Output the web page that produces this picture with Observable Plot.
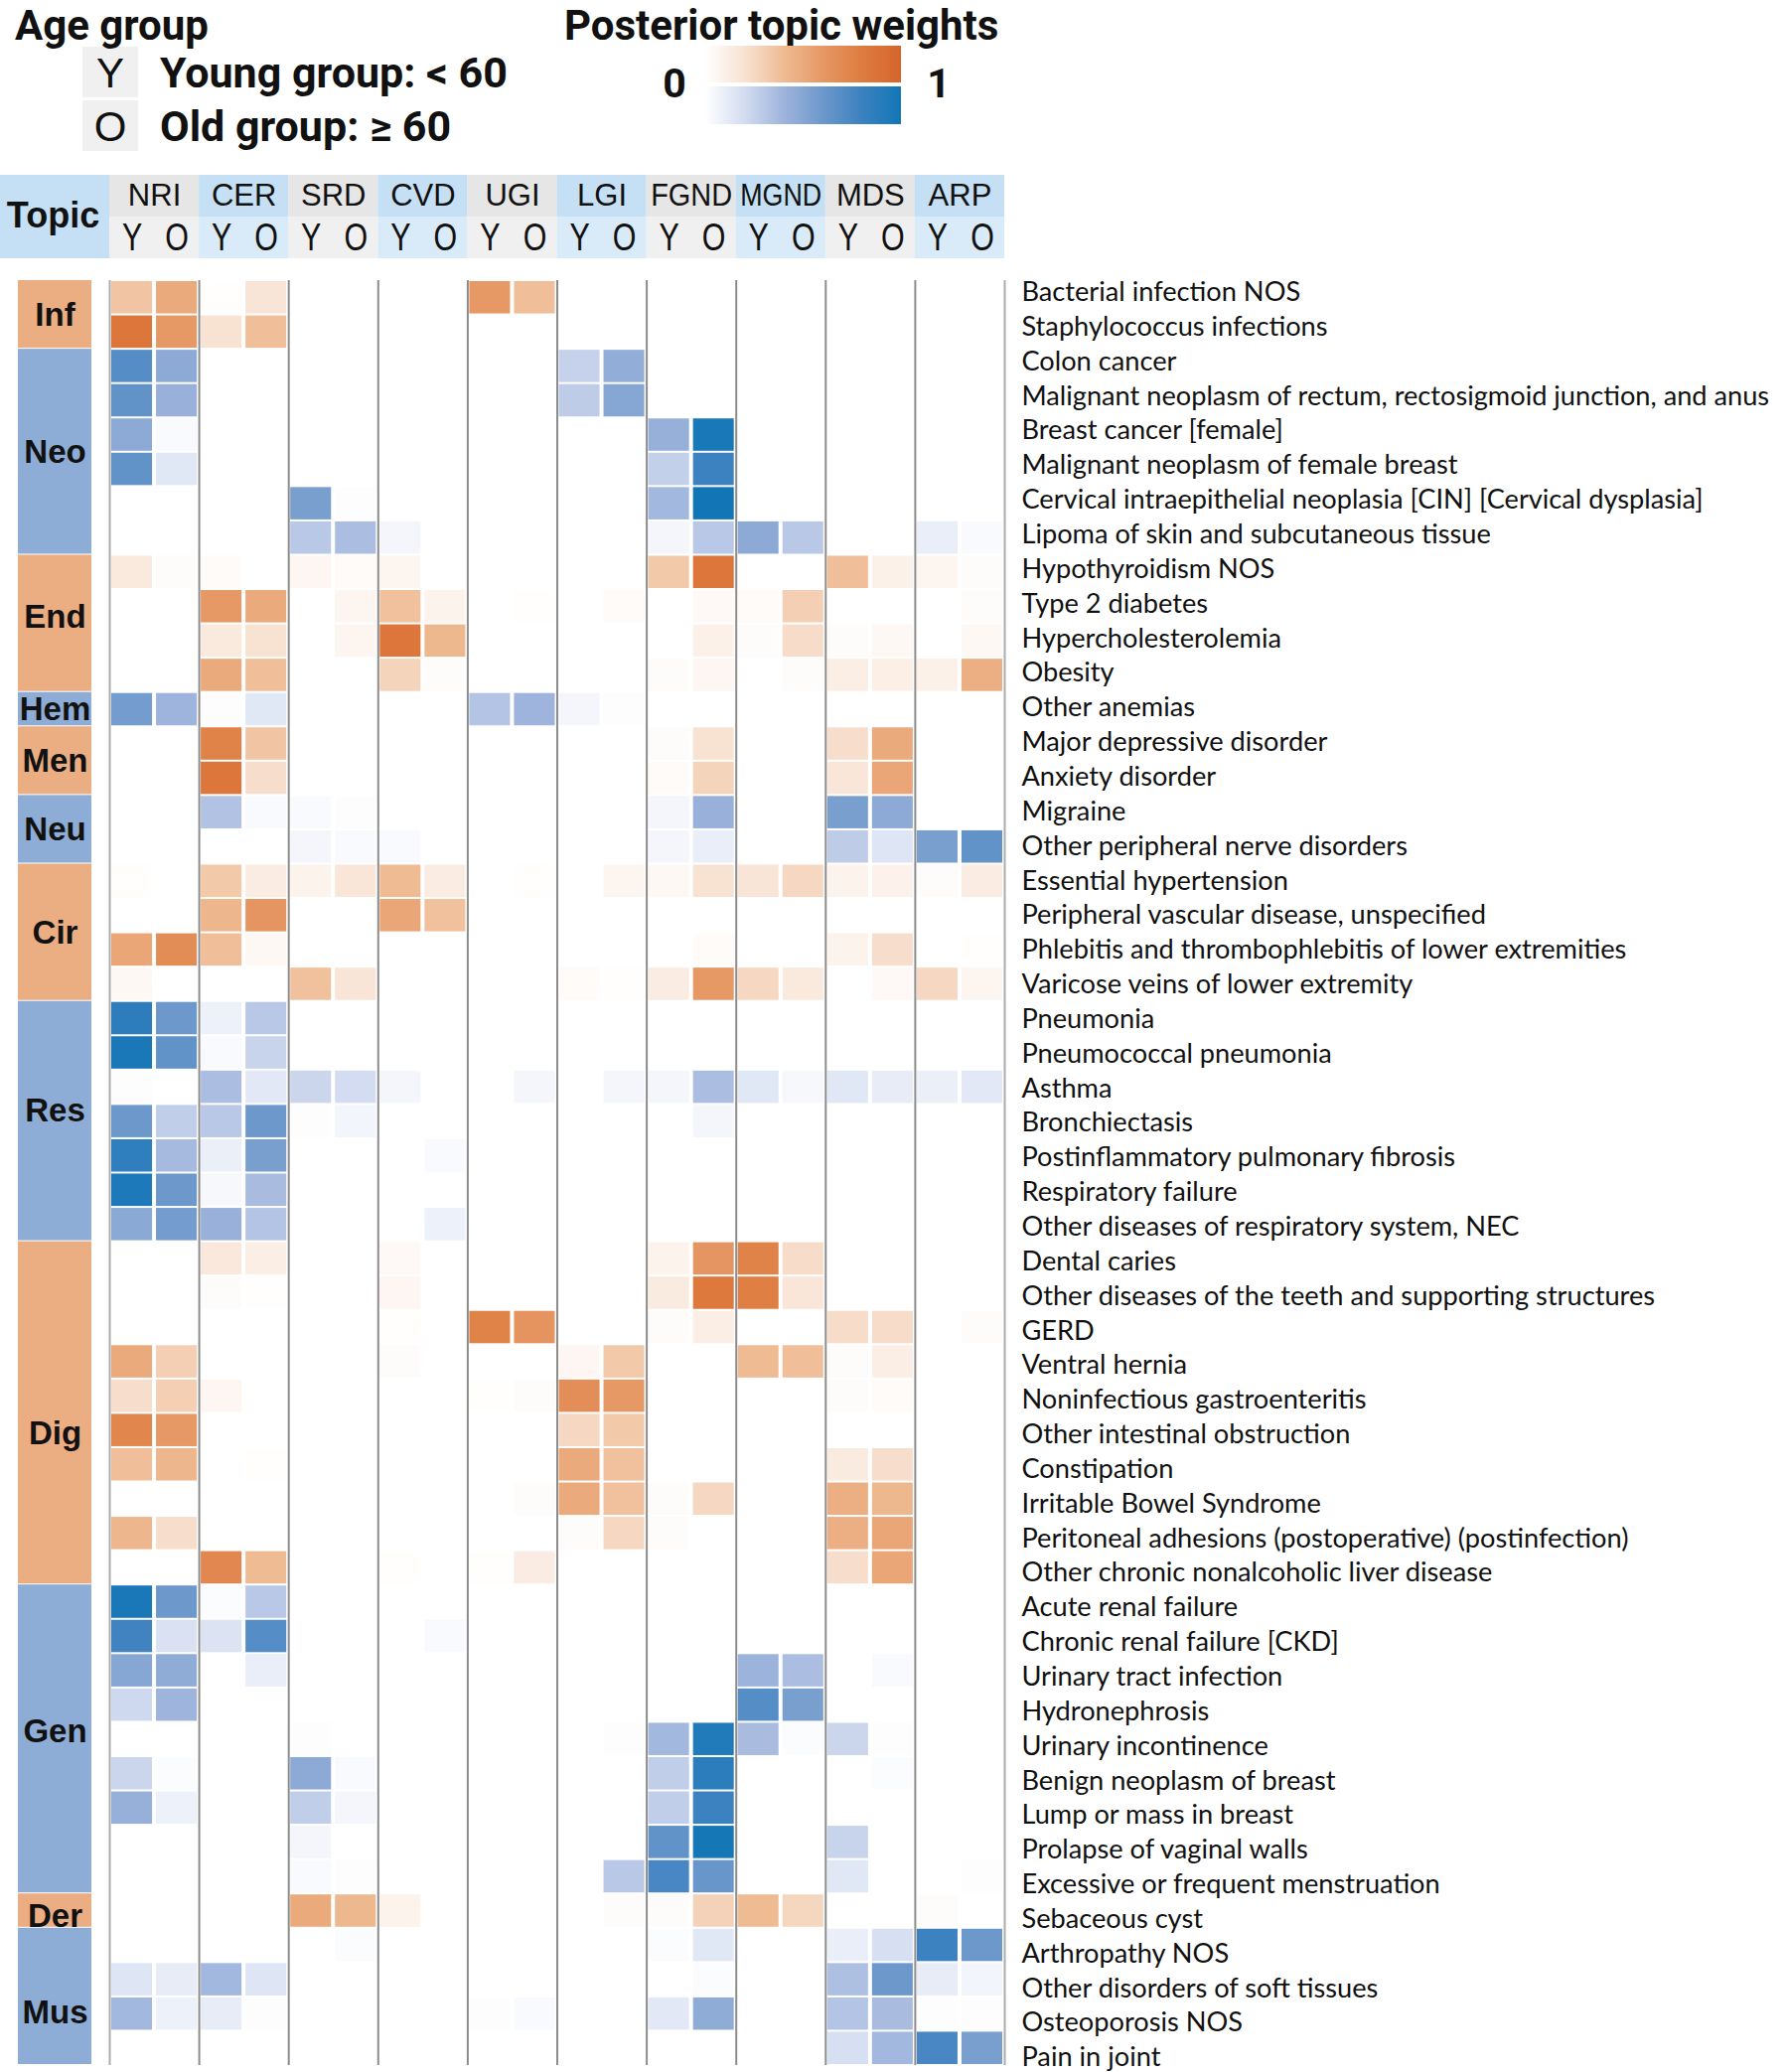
<!DOCTYPE html>
<html><head><meta charset="utf-8">
<script src="https://cdn.jsdelivr.net/npm/d3@7"></script>
<script src="https://cdn.jsdelivr.net/npm/@observablehq/plot@0.6"></script>
<style>
html,body{margin:0;padding:0;background:#fff;}
#chart{width:1800px;height:2086px;overflow:hidden;background:#fff;}
#chart svg{display:block;}
</style></head>
<body><div id="chart"></div>
<script>
// ---------------- DATA ----------------
const topics = ["NRI","CER","SRD","CVD","UGI","LGI","FGND","MGND","MDS","ARP"];
const ageGroups = ["Y","O"];
const ageLegend = ["Young group: < 60","Old group: \u2265 60"];
const categories = ["Inf","Neo","End","Hem","Men","Neu","Cir","Res","Dig","Gen","Der","Mus"];

// column order: NRI Y,O | CER Y,O | SRD Y,O | CVD Y,O | UGI Y,O | LGI Y,O | FGND Y,O | MGND Y,O | MDS Y,O | ARP Y,O
const infDiseases = ["Bacterial infection NOS","Staphylococcus infections"];
const infWeights = [
  [.35,.50, .01,.18, 0,0, 0,0, .60,.38, 0,0, 0,0, 0,0, 0,0, 0,0],
  [.85,.60, .20,.38, 0,0, 0,0, 0,0, 0,0, 0,0, 0,0, 0,0, 0,0]
];
const neoDiseases = ["Colon cancer","Malignant neoplasm of rectum, rectosigmoid junction, and anus","Breast cancer [female]","Malignant neoplasm of female breast","Cervical intraepithelial neoplasia [CIN] [Cervical dysplasia]","Lipoma of skin and subcutaneous tissue"];
const neoWeights = [
  [.70,.47, 0,0, 0,0, 0,0, 0,0, .25,.45, 0,0, 0,0, 0,0, 0,0],
  [.65,.42, 0,0, 0,0, 0,0, 0,0, .28,.50, 0,0, 0,0, 0,0, 0,0],
  [.47,.03, 0,0, 0,0, 0,0, 0,0, 0,0, .43,.97, 0,0, 0,0, 0,0],
  [.65,.14, 0,0, 0,0, 0,0, 0,0, 0,0, .26,.80, 0,0, 0,0, 0,0],
  [0,0, 0,0, .55,.01, 0,0, 0,0, 0,0, .38,1.0, 0,0, 0,0, 0,0],
  [0,0, 0,0, .30,.35, .05,0, 0,0, 0,0, .05,.30, .47,.30, 0,0, .10,.03]
];
const endDiseases = ["Hypothyroidism NOS","Type 2 diabetes","Hypercholesterolemia","Obesity"];
const endWeights = [
  [.15,.02, .03,0, .06,.03, .07,0, 0,0, 0,0, .33,.85, 0,0, .38,.10, .07,.02],
  [0,0, .60,.50, 0,.07, .37,.08, 0,.01, 0,.03, 0,.04, .03,.30, 0,0, 0,.02],
  [0,0, .15,.20, 0,.07, .85,.42, 0,0, 0,0, 0,.10, .02,.23, .02,.05, 0,.05],
  [0,0, .50,.38, 0,0, .27,.02, 0,0, 0,0, .02,.06, 0,.02, .12,.11, .10,.47]
];
const hemDiseases = ["Other anemias"];
const hemWeights = [
  [.57,.40, .01,.14, 0,0, 0,0, .32,.40, .05,.01, 0,0, 0,0, 0,0, 0,0]
];
const menDiseases = ["Major depressive disorder","Anxiety disorder"];
const menWeights = [
  [0,0, .75,.35, 0,0, 0,0, 0,0, 0,0, .02,.20, 0,0, .22,.50, 0,0],
  [0,0, .85,.22, 0,0, 0,0, 0,0, 0,0, .03,.27, 0,0, .17,.52, 0,0]
];
const neuDiseases = ["Migraine","Other peripheral nerve disorders"];
const neuWeights = [
  [0,0, .33,.03, .03,.01, 0,0, 0,0, 0,0, .05,.42, 0,0, .55,.47, 0,0],
  [0,0, 0,0, .05,.03, .03,0, 0,0, 0,0, .05,.10, 0,0, .28,.15, .55,.65]
];
const cirDiseases = ["Essential hypertension","Peripheral vascular disease, unspecified","Phlebitis and thrombophlebitis of lower extremities","Varicose veins of lower extremity"];
const cirWeights = [
  [.01,0, .33,.13, .08,.17, .40,.13, 0,.01, 0,.07, .05,.20, .18,.25, .08,.09, .02,.13],
  [0,0, .43,.62, 0,0, .52,.37, 0,0, 0,0, 0,0, 0,0, 0,0, 0,0],
  [.52,.68, .38,.05, 0,0, 0,0, 0,0, 0,0, 0,.03, 0,0, .08,.22, 0,.01],
  [.05,0, 0,0, .37,.18, 0,0, 0,0, .03,.01, .13,.60, .25,.15, 0,.04, .25,.07]
];
const resDiseases = ["Pneumonia","Pneumococcal pneumonia","Asthma","Bronchiectasis","Postinflammatory pulmonary fibrosis","Respiratory failure","Other diseases of respiratory system, NEC"];
const resWeights = [
  [.87,.60, .08,.30, 0,0, 0,0, 0,0, 0,0, 0,0, 0,0, 0,0, 0,0],
  [.96,.65, .03,.24, 0,0, 0,0, 0,0, 0,0, 0,0, 0,0, 0,0, 0,0],
  [.01,0, .35,.13, .23,.20, .05,0, 0,.05, 0,.05, .05,.35, .14,.04, .14,.11, .09,.13],
  [.60,.27, .30,.60, .01,.06, 0,0, 0,0, 0,0, 0,.05, 0,0, 0,0, 0,0],
  [.86,.37, .09,.55, 0,0, 0,.03, 0,0, 0,0, 0,0, 0,0, 0,0, 0,0],
  [.95,.60, .04,.36, 0,0, 0,0, 0,0, 0,0, 0,0, 0,0, 0,0, 0,0],
  [.48,.57, .42,.32, 0,0, 0,.08, 0,0, 0,0, 0,0, 0,0, 0,0, 0,0]
];
const digDiseases = ["Dental caries","Other diseases of the teeth and supporting structures","GERD","Ventral hernia","Noninfectious gastroenteritis","Other intestinal obstruction","Constipation","Irritable Bowel Syndrome","Peritoneal adhesions (postoperative) (postinfection)","Other chronic nonalcoholic liver disease"];
const digWeights = [
  [0,0, .16,.12, 0,0, .04,0, 0,0, 0,0, .08,.62, .75,.23, 0,0, 0,0],
  [0,0, .02,.01, 0,0, .06,0, 0,0, 0,0, .14,.83, .78,.17, 0,0, 0,0],
  [0,0, 0,0, 0,0, .01,0, .75,.63, 0,0, .02,.12, 0,0, .23,.23, 0,.02],
  [.50,.30, 0,0, 0,0, .02,0, 0,0, .06,.33, 0,0, .40,.38, .02,.12, 0,0],
  [.22,.30, .06,0, 0,0, 0,0, .01,.02, .67,.60, 0,0, 0,0, .02,.03, 0,0],
  [.73,.60, 0,0, 0,0, 0,0, 0,0, .25,.33, 0,0, 0,0, 0,0, 0,0],
  [.38,.43, 0,.01, 0,0, 0,0, 0,0, .50,.37, 0,0, 0,0, .14,.22, 0,0],
  [0,0, 0,0, 0,0, 0,0, 0,.02, .50,.37, .02,.25, 0,0, .47,.42, 0,0],
  [.43,.22, 0,0, 0,0, 0,0, 0,0, .02,.25, .02,0, 0,0, .47,.52, 0,0],
  [0,0, .72,.40, 0,0, .01,0, .01,.13, 0,0, 0,0, 0,0, .22,.52, 0,0]
];
const genDiseases = ["Acute renal failure","Chronic renal failure [CKD]","Urinary tract infection","Hydronephrosis","Urinary incontinence","Benign neoplasm of breast","Lump or mass in breast","Prolapse of vaginal walls","Excessive or frequent menstruation"];
const genWeights = [
  [.96,.60, .02,.30, 0,0, 0,0, 0,0, 0,0, 0,0, 0,0, 0,0, 0,0],
  [.78,.17, .16,.70, 0,0, 0,.03, 0,0, 0,0, 0,0, 0,0, 0,0, 0,0],
  [.50,.46, 0,.10, 0,0, 0,0, 0,0, 0,0, 0,0, .41,.35, 0,.03, 0,0],
  [.22,.40, 0,0, 0,0, 0,0, 0,0, 0,0, 0,0, .70,.55, 0,0, 0,0],
  [0,0, 0,0, .01,0, 0,0, 0,0, 0,.01, .38,.93, .36,.02, .23,.01, 0,0],
  [.23,.02, 0,0, .47,.03, 0,0, 0,0, 0,0, .27,.88, 0,0, 0,.02, 0,0],
  [.43,.08, 0,0, .27,.05, 0,0, 0,0, 0,0, .27,.80, 0,0, 0,0, 0,0],
  [0,0, 0,0, .05,0, 0,0, 0,0, 0,0, .65,.98, 0,0, .24,0, 0,0],
  [0,0, 0,0, .03,.01, 0,0, 0,0, 0,.30, .75,.62, 0,0, .14,0, 0,.01]
];
const derDiseases = ["Sebaceous cyst"];
const derWeights = [
  [0,0, 0,0, .50,.42, .08,0, 0,0, 0,.02, .02,.28, .40,.26, 0,0, .02,0]
];
const musDiseases = ["Arthropathy NOS","Other disorders of soft tissues","Osteoporosis NOS","Pain in joint"];
const musWeights = [
  [0,0, 0,0, 0,.02, 0,0, 0,0, 0,0, .02,.14, 0,0, .10,.18, .80,.60],
  [.15,.11, .38,.15, 0,0, 0,0, 0,0, 0,0, 0,.02, 0,0, .34,.60, .11,.06],
  [.38,.08, .11,.01, 0,0, 0,0, .01,.03, 0,0, .13,.46, 0,0, .32,.36, .01,.01],
  [0,0, 0,0, 0,0, 0,0, 0,0, 0,0, 0,0, 0,0, .18,.38, .75,.55]
];

const orangeRamp = ["#ffffff","#f8e2d2","#efbb93","#e69865","#de7c40","#d6652a"];
const blueRamp   = ["#ffffff","#d3dcf0","#9eb4dc","#6d98cb","#3c81c0","#1276b6"];

// ---------------- LAYOUT (scale units) ----------------
const HEAD = {top: -3.067, mid: -1.852, bot: -0.637};
const TOPIC_BOX_X1 = -2.442, CAT_X1 = -2.042, CAT_X2 = -0.40, CAT_TEXT_X = -1.221, TOPIC_TEXT_X = -1.265, LABEL_X = 20.377;
const catLabelNudge = {End: -0.19, Res: -0.31, Dig: 0.58, Gen: -0.23, Der: 0.15, Mus: 0.46};
const LABEL_SPREAD = 1.0084;   // label column is laid out slightly looser than the cell rows

// ---------------- BUILD TABLES ----------------
const diseaseLists = [infDiseases,neoDiseases,endDiseases,hemDiseases,menDiseases,neuDiseases,cirDiseases,resDiseases,digDiseases,genDiseases,derDiseases,musDiseases];
const weightLists  = [infWeights,neoWeights,endWeights,hemWeights,menWeights,neuWeights,cirWeights,resWeights,digWeights,genWeights,derWeights,musWeights];

const cells = [], labels = [], catSpans = [];
let row = 0;
categories.forEach((cat, k) => {
  const sign = k % 2 === 0 ? 1 : -1;   // orange groups positive, blue groups negative
  const names = diseaseLists[k];
  catSpans.push({cat, r1: row, r2: row + names.length, tone: sign});
  names.forEach((name, i) => {
    labels.push({name, r: row});
    weightLists[k][i].forEach((w, c) => cells.push({r: row, c, v: sign * w}));
    row++;
  });
});
const nRows = row, nCols = topics.length * ageGroups.length;
const topicCells = topics.map((t, i) => ({t, c1: 2 * i, c2: 2 * i + 2, tone: i % 2}));
const ageCells = topics.flatMap((t, i) => ageGroups.map((a, j) => ({a, c: 2 * i + j})));
const innerBounds = topics.slice(1).map((t, i) => 2 * (i + 1));
const outerBounds = [0, nCols];

const colorDomain = [-1,-0.8,-0.6,-0.4,-0.2,0,0.2,0.4,0.6,0.8,1];
const colorRange = [...blueRamp].reverse().concat(orangeRamp.slice(1));

// ---------------- LEGEND (above the plot) ----------------
const chart = document.getElementById("chart");
const leg = d3.create("svg").attr("width", 1800).attr("height", 170).attr("viewBox", "0 0 1800 170");
const defs = leg.append("defs");
[["gradO", orangeRamp], ["gradB", blueRamp]].forEach(([id, ramp]) => {
  const g = defs.append("linearGradient").attr("id", id).attr("x1", "0%").attr("x2", "100%");
  ramp.forEach((c, i) => g.append("stop").attr("offset", (i / (ramp.length - 1)) * 100 + "%").attr("stop-color", c));
});
const titleFont = "Roboto, 'Liberation Sans', Arial, sans-serif";
ageGroups.forEach((a, i) => {
  const y0 = i === 0 ? 47 : 101;
  leg.append("rect").attr("x", 83).attr("y", y0).attr("width", 56).attr("height", 51).attr("fill", "#f0f0f0");
  leg.append("text").attr("x", 111).attr("y", y0 + 41).attr("text-anchor", "middle")
    .attr("font-family", "'Liberation Sans', Arial, sans-serif").attr("font-size", 42).attr("fill", "#111").text(a);
  leg.append("text").attr("x", 161).attr("y", y0 + 41).attr("font-family", titleFont).attr("font-weight", 700)
    .attr("font-size", 43).attr("fill", "#111").text(ageLegend[i]);
});
leg.append("text").attr("x", 15).attr("y", 40).attr("font-family", titleFont).attr("font-weight", 700)
  .attr("font-size", 42).attr("fill", "#111").text("Age group");
leg.append("text").attr("x", 568).attr("y", 40).attr("font-family", titleFont).attr("font-weight", 700)
  .attr("font-size", 42).attr("fill", "#111").text("Posterior topic weights");
leg.append("rect").attr("x", 710).attr("y", 46).attr("width", 197).attr("height", 37).attr("fill", "url(#gradO)");
leg.append("rect").attr("x", 710).attr("y", 87).attr("width", 197).attr("height", 38).attr("fill", "url(#gradB)");
leg.append("text").attr("x", 679).attr("y", 98).attr("text-anchor", "middle").attr("font-family", titleFont)
  .attr("font-weight", 700).attr("font-size", 41).attr("fill", "#111").text("0");
leg.append("text").attr("x", 945).attr("y", 98).attr("text-anchor", "middle").attr("font-family", titleFont)
  .attr("font-weight", 700).attr("font-size", 41).attr("fill", "#111").text("1");
chart.appendChild(leg.node());

// ---------------- PLOT ----------------
const headFont = "'Liberation Sans', Arial, Helvetica, sans-serif";
const svg = Plot.plot({
  width: 1800, height: 1916, margin: 0,
  x: {domain: [0, nCols], range: [110, 1011], axis: null},
  y: {domain: [0, nRows], range: [112, 1909], axis: null},
  color: {type: "linear", domain: colorDomain, range: colorRange, interpolate: "rgb"},
  style: {background: "white", fontFamily: headFont},
  marks: [
    // header
    Plot.rect([0], {x1: TOPIC_BOX_X1, x2: 0, y1: HEAD.top, y2: HEAD.bot, fill: "#c5e0f5"}),
    Plot.rect(topicCells.filter(d => d.tone === 0), {x1: "c1", x2: "c2", y1: HEAD.top, y2: HEAD.mid, fill: "#e6e6e6"}),
    Plot.rect(topicCells.filter(d => d.tone === 1), {x1: "c1", x2: "c2", y1: HEAD.top, y2: HEAD.mid, fill: "#c5e0f5"}),
    Plot.rect(topicCells.filter(d => d.tone === 0), {x1: "c1", x2: "c2", y1: HEAD.mid, y2: HEAD.bot, fill: "#f0f0f0"}),
    Plot.rect(topicCells.filter(d => d.tone === 1), {x1: "c1", x2: "c2", y1: HEAD.mid, y2: HEAD.bot, fill: "#d9eaf9"}),
    Plot.text(topicCells, {x: d => (d.c1 + d.c2) / 2, y: (HEAD.top + HEAD.mid) / 2, text: "t", fontSize: 31,
      fontFamily: headFont, fill: "#111"}),
    Plot.text(ageCells, {x: d => d.c + 0.5, y: (HEAD.mid + HEAD.bot) / 2, text: "a", fontSize: 38,
      fontFamily: headFont, fill: "#111"}),
    Plot.text(["Topic"], {x: TOPIC_TEXT_X, y: -1.88, text: d => d, fontSize: 36, fontWeight: 900,
      fontFamily: headFont, fill: "#111"}),
    // category boxes
    Plot.rect(catSpans.filter(d => d.tone > 0), {x1: CAT_X1, x2: CAT_X2, y1: "r1", y2: "r2", fill: "#ebad82", insetBottom: 1}),
    Plot.rect(catSpans.filter(d => d.tone < 0), {x1: CAT_X1, x2: CAT_X2, y1: "r1", y2: "r2", fill: "#8eadd6", insetBottom: 1}),
    Plot.text(catSpans, {x: CAT_TEXT_X, y: d => (d.r1 + d.r2) / 2 + (catLabelNudge[d.cat] || 0), text: "cat",
      fontSize: 33, fontWeight: "bold", fontFamily: headFont, fill: "#111"}),
    // heatmap cells
    Plot.rect(cells, {x1: "c", x2: d => d.c + 1, y1: "r", y2: d => d.r + 1, fill: "v",
      insetLeft: 2, insetRight: 2, insetTop: 1, insetBottom: 1}),
    // separators
    Plot.ruleX(innerBounds, {x: d => d, y1: 0, y2: nRows, stroke: "#8c8c8c", strokeWidth: 2}),
    Plot.ruleX(outerBounds, {x: d => d, y1: 0, y2: nRows, stroke: "#ababab", strokeWidth: 2}),
    // disease labels
    Plot.text(labels, {x: LABEL_X, y: d => nRows / 2 + (d.r + 0.5 - nRows / 2) * LABEL_SPREAD, text: "name",
      textAnchor: "start", fontSize: 27.2, fontFamily: "Lato, 'Open Sans', sans-serif", fill: "#111", dy: 2})
  ]
});
chart.appendChild(svg);

// fine typographic adjustments on the header
d3.select(svg).selectAll("text").each(function () {
  const s = this.textContent;
  if (s === "Y" || s === "O") {
    const t = this.getAttribute("transform");
    if (t) this.setAttribute("transform", t + " scale(0.8,1)");
  }
  if (s === "FGND" || s === "MGND") {
    this.setAttribute("textLength", 82);
    this.setAttribute("lengthAdjust", "spacingAndGlyphs");
  }
});
</script>
</body></html>
